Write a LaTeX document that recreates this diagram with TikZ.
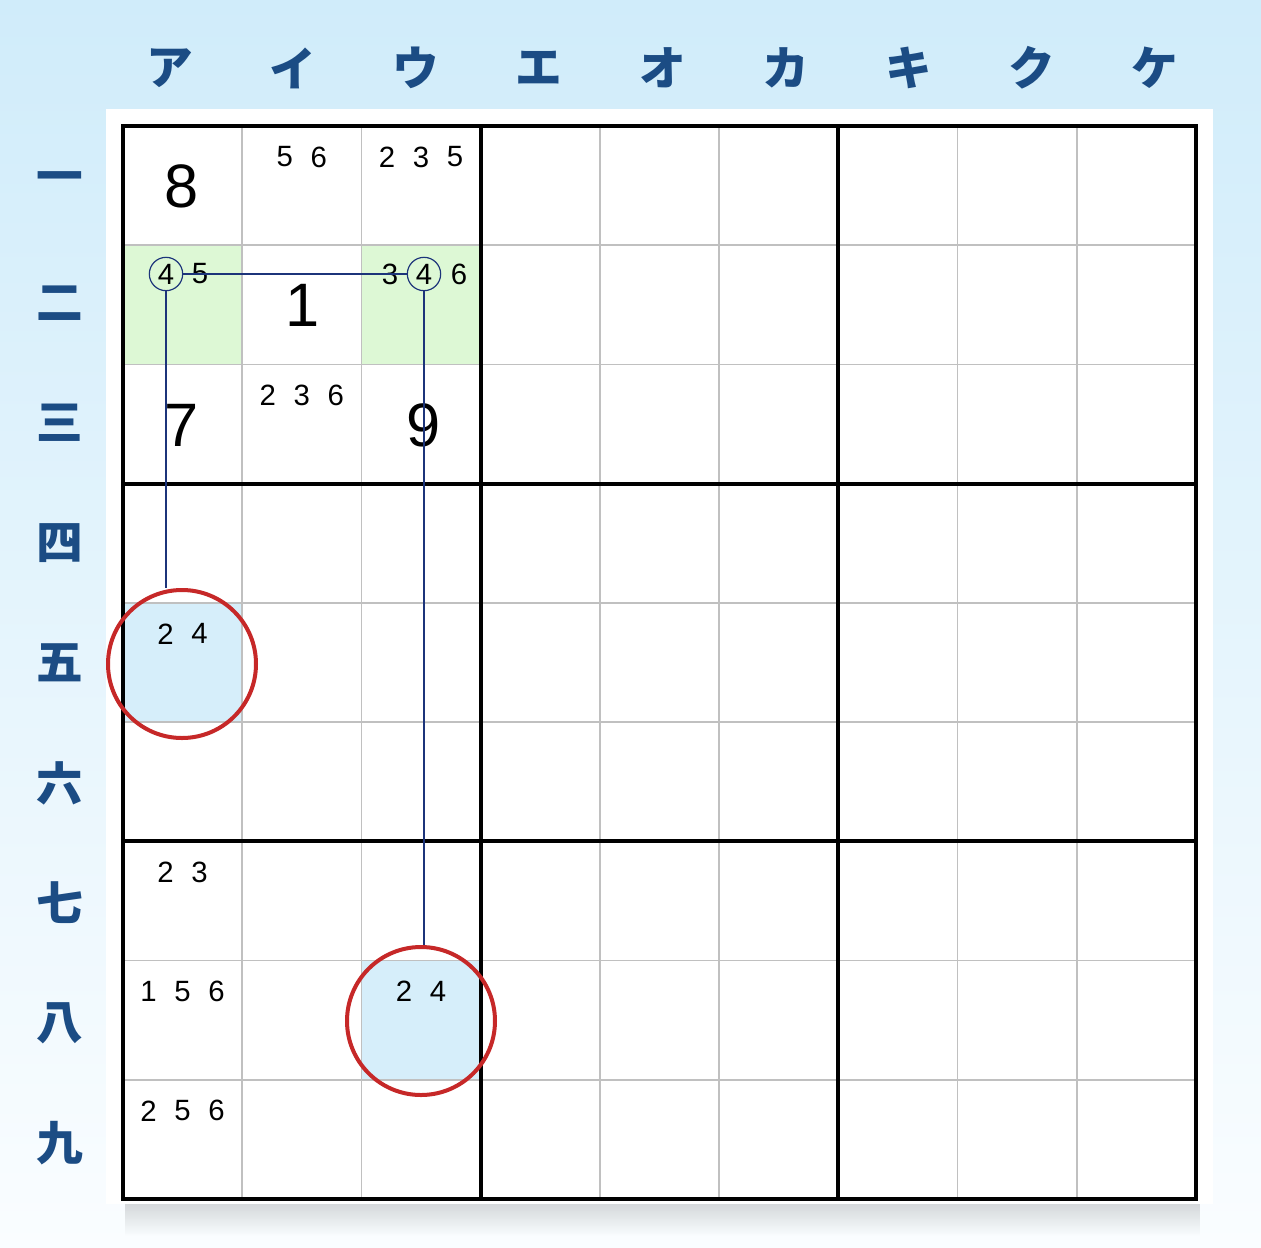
\documentclass[tikz,border=0pt]{standalone}
\usepackage{fontspec}
\setmainfont{Liberation Sans}
\newfontfamily\jpfont{Noto Sans CJK JP}
\usetikzlibrary{positioning, fadings}

\definecolor{bgtop}{RGB}{208,236,250}
\definecolor{bgbottom}{RGB}{250,253,255}
\definecolor{labelblue}{RGB}{27,76,132}
\definecolor{linkblue}{RGB}{28,52,122}
\definecolor{ringred}{RGB}{198,40,40}
\definecolor{greencell}{RGB}{221,248,213}
\definecolor{bluecell}{RGB}{214,238,250}
\definecolor{gridgray}{RGB}{192,192,192}

\tikzset{
  thingrid/.style={draw=gridgray, line width=1.1pt},
  boxline/.style={draw=black, line width=3pt},
  given/.style={font=\fontsize{46}{46}\selectfont, inner sep=0pt},
  pencil/.style={font=\fontsize{22}{22}\selectfont, inner sep=0pt},
  collabel/.style={font=\jpfont\bfseries\fontsize{35}{35}\selectfont, text=labelblue, inner sep=0pt},
  ring/.style={circle, draw=ringred, line width=3pt, minimum size=111pt, inner sep=0pt},
  pick/.style={circle, draw=linkblue, line width=0.9pt, minimum size=25pt},
  link/.style={draw=linkblue, line width=1.1pt},
}

\def\cs{119.22}
% pencil marks: column, row, digits
\newcommand{\pencil}[3]{%
  \foreach \d [count=\k] in {#3} {\xdef\nd{\k}}
  \foreach \d [count=\k] in {#3}
    \node[pencil] (pm-#1-#2-\k) at ({123+(#1+0.5)*\cs+(\k-(\nd+1)/2)*34}, {126+#2*\cs+31}) {\d};
}

\begin{document}
\begin{tikzpicture}[x=0.75pt, y=-0.75pt]
  \useasboundingbox (0,0) rectangle (1261,1247);
  \shade[top color=bgtop, bottom color=bgbottom] (0,0) rectangle (1261,1247);
  % soft shadow under the board
  \fill[black, opacity=0.16, path fading=south] (125,1200) rectangle (1200,1236);
  \fill[white] (106,109) rectangle (1213,1204);

  % highlighted cells
  \fill[greencell] (123,{126+\cs}) rectangle ++(\cs,\cs);
  \fill[greencell] ({123+2*\cs},{126+\cs}) rectangle ++(\cs,\cs);
  \fill[bluecell] (123,{126+4*\cs}) rectangle ++(\cs,\cs);
  \fill[bluecell] ({123+2*\cs},{126+7*\cs}) rectangle ++(\cs,\cs);

  % grid
  \foreach \i in {1,2,4,5,7,8} {
    \draw[thingrid] ({123+\i*\cs},126) -- ({123+\i*\cs},{126+9*\cs});
    \draw[thingrid] (123,{126+\i*\cs}) -- ({123+9*\cs},{126+\i*\cs});
  }
  \foreach \i in {3,6} {
    \draw[boxline] ({123+\i*\cs},126) -- ({123+\i*\cs},{126+9*\cs});
    \draw[boxline] (123,{126+\i*\cs}) -- ({123+9*\cs},{126+\i*\cs});
  }
  \draw[boxline] (123,126) rectangle ({123+9*\cs},{126+9*\cs});

  % labels
  \foreach \t [count=\i from 0] in {ア,イ,ウ,エ,オ,カ,キ,ク,ケ}
    \node[collabel] (col-\i) at ({170+123.1*\i},68) {\t};
  \foreach \t [count=\j from 0] in {一,二,三,四,五,六,七,八,九}
    \node[collabel] (row-\j) at (60,{183+120*\j}) {\t};

  % givens
  \node[given] (g8) at (182,186) {8};
  \node[given] (g1) at (303,305) {1};
  \node[given] (g7) at (182,425) {7};
  \node[given] (g9) at (424,425) {9};

  % candidates
  \pencil{1}{0}{5,6}
  \pencil{2}{0}{2,3,5}
  \pencil{1}{2}{2,3,6}
  \pencil{0}{4}{2,4}
  \pencil{0}{6}{2,3}
  \pencil{0}{7}{1,5,6}
  \pencil{0}{8}{2,5,6}
  \pencil{2}{7}{2,4}

  \node[pencil, pick] (four-a) at (166,274) {4};
  \node[pencil] (five-a) at (200,274) {5};
  \node[pencil] (three-b) at (390,274) {3};
  \node[pencil, pick] (four-b) at (424,274) {4};
  \node[pencil] (six-b) at (459,274) {6};

  % rings and chain
  \node[ring] (ring-a) at (182,664) {};
  \node[ring] (ring-b) at (421,1021) {};
  \draw[link] (four-a.east) -- (four-b.west);
  \draw[link] (four-a.south) -- (four-a.south |- ring-a.north);
  \draw[link] (four-b.south) -- (four-b.south |- ring-b.north);
\end{tikzpicture}
\end{document}
